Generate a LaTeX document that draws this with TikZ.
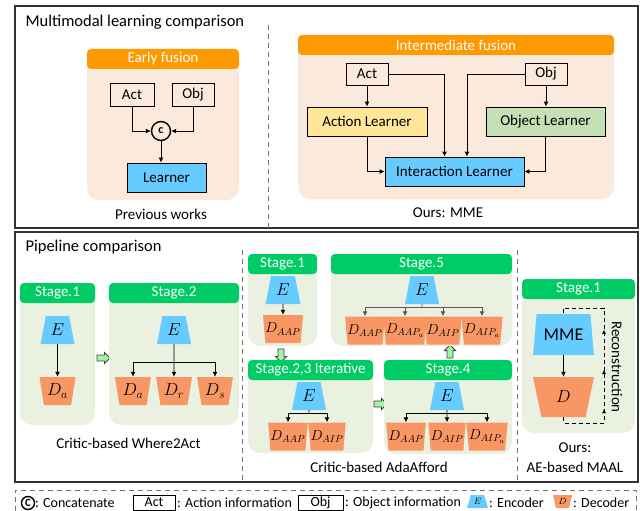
\documentclass[tikz,border=0pt]{standalone}
\usepackage{fontspec}
\setmainfont{Carlito}
\usepackage{tikz}
\usetikzlibrary{shapes,shapes.geometric,shapes.arrows}
\usetikzlibrary{arrows.meta}
\usetikzlibrary{decorations.markings}
\definecolor{fusionhead}{RGB}{255,153,0}
\definecolor{fusionbody}{RGB}{251,233,220}
\definecolor{stagehead}{RGB}{0,204,102}
\definecolor{stagebody}{RGB}{235,241,225}
\definecolor{encblue}{RGB}{102,204,255}
\definecolor{decorange}{RGB}{248,150,100}
\definecolor{actyellow}{RGB}{255,230,153}
\definecolor{objgreen}{RGB}{197,224,180}
\definecolor{stepgreen}{RGB}{160,245,160}

\begin{document}
\begin{tikzpicture}[x=1pt,y=-1pt,font=\fontsize{15}{18}\selectfont,
	arr/.style={-{Latex[length=5pt,width=5pt]},line width=0.9pt},
	box/.style={draw,line width=0.9pt,inner sep=0,minimum height=23},
	enc/.style={trapezium,trapezium stretches=true,fill=encblue,inner sep=0,minimum width=34,minimum height=28,trapezium angle=75,font=\fontsize{17}{18}\selectfont},
	dec/.style={trapezium,trapezium stretches=true,shape border rotate=180,fill=decorange,inner sep=0,minimum width=36,minimum height=28,trapezium angle=77,font=\fontsize{17}{18}\selectfont},
	fhead/.style={fill=fusionhead,text=white,rounded corners=4,inner sep=0,minimum height=20},
	shead/.style={fill=stagehead,text=white,rounded corners=4,inner sep=0,minimum height=20},
	stepnext/.style={single arrow,draw=black!75,fill=stepgreen,line width=0.8pt,minimum height=13,inner sep=2.6pt,single arrow head extend=2.6pt,single arrow head indent=0pt},
	divider/.style={draw=black!55,line width=0.9pt,dash pattern=on 5pt off 4pt},
	frame/.style={draw=black!80,line width=1.3pt},
	legtext/.style={anchor=west,inner sep=0,font=\fontsize{14}{16}\selectfont}]
	\useasboundingbox (0,0) rectangle (640,511);
	\draw [frame] (15,6) rectangle (638,228);
	\draw [frame] (15,232) rectangle (638,482);
	\draw [divider] (268,25) -- (268,228);
	\draw [divider] (242,250) -- (242,482);
	\draw [divider] (517,250) -- (517,482);
	\node [anchor=west,font=\fontsize{16.5}{20}\selectfont] (ttop) at (22,22) {Multimodal learning comparison};
	\node [anchor=west,font=\fontsize{16.5}{20}\selectfont] (tbot) at (22,247) {Pipeline comparison};

	\fill [fusionbody,rounded corners=12] (87,55) rectangle (239,200);
	\node [fhead,minimum width=152] (efh) at (163,59) {Early fusion};
	\node [box,minimum width=44] (act1) at (132,94.5) {Act};
	\node [box,minimum width=42] (obj1) at (193,94.5) {Obj};
	\node [circle,draw,line width=1.4pt,minimum size=19,inner sep=0,font=\bfseries\fontsize{12}{12}\selectfont] (cat) at (161,131) {c};
	\node [box,fill=encblue,minimum width=79,minimum height=29] (lrn) at (166.5,177.5) {Learner};
	\draw [arr] (act1.south) |- (cat.west);
	\draw [arr] (obj1.south) |- (cat.east);
	\draw [arr] (cat.south) -- (cat.south |- lrn.north);
	\node (cap1) at (161,214) {Previous works};

	\fill [fusionbody,rounded corners=12] (298,41) rectangle (614,199);
	\node [fhead,minimum width=316] (ifh) at (456,45) {Intermediate fusion};
	\node [box,minimum width=42,minimum height=22] (act2) at (367,74) {Act};
	\node [box,minimum width=42,minimum height=22] (obj2) at (546,74) {Obj};
	\node [box,fill=actyellow,minimum width=120,minimum height=29] (al) at (367,121.5) {Action Learner};
	\node [box,fill=objgreen,minimum width=119,minimum height=29] (ol) at (545.5,121.5) {Object Learner};
	\node [box,fill=encblue,minimum width=139,minimum height=29] (il) at (454.5,171.5) {Interaction Learner};
	\draw [arr] (act2.south) -- (al.north);
	\draw [arr] (act2.east) -| ([xshift=-10]il.north);
	\draw [arr] (obj2.west) -| ([xshift=12.5]il.north);
	\draw [arr] (obj2.south) -- (obj2.south |- ol.north);
	\draw [arr] (al.south) |- (il.west);
	\draw [arr] (ol.south) |- (il.east);
	\node (cap2) at (448,213) {Ours: MME};

	\fill [stagebody,rounded corners=12] (20,289) rectangle (95,425);
	\node [shead,minimum width=75] (w1h) at (57.5,293) {Stage.1};
	\node [enc] (w1e) at (57.5,330) {$E$};
	\node [dec] (w1d) at (57.5,391) {$D_a$};
	\draw [arr] (w1e.south) -- (w1d.north);
	\node [stepnext] (w12) at (102,358) {};
	\fill [stagebody,rounded corners=12] (109,289) rectangle (239,425);
	\node [shead,minimum width=130] (w2h) at (174,293) {Stage.2};
	\node [enc] (w2e) at (174,330) {$E$};
	\node [dec] (w2da) at (133,391) {$D_a$};
	\node [dec] (w2dr) at (174,391) {$D_r$};
	\node [dec] (w2ds) at (215,391) {$D_s$};
	\coordinate (w2b) at (174,362);
	\draw [line width=0.9pt] (w2e.south) -- (w2b);
	\draw [arr] (w2b) -- (w2dr.north);
	\draw [arr] (w2b) -| (w2da.north);
	\draw [arr] (w2b) -| (w2ds.north);
	\node (cap3) at (128.5,443) {Critic-based Where2Act};

	\begin{scope}[dec/.append style={font=\fontsize{14.5}{16}\selectfont,trapezium angle=79,minimum width=39}]
	\fill [stagebody,rounded corners=12] (248,260) rectangle (317,346);
	\node [shead,minimum width=69] (a1h) at (282.5,264) {Stage.1};
	\node [enc,minimum width=35] (a1e) at (283,290) {$E$};
	\node [dec,minimum width=40] (a1d) at (283,329) {$D_{AAP}$};
	\draw [arr] (a1e.south) -- (a1d.north);
	\node [stepnext,shape border rotate=270] (a12) at (281,354) {};

	\fill [stagebody,rounded corners=12] (248,366) rectangle (373,453);
	\node [shead,minimum width=125] (a2h) at (310.5,370) {Stage.2,3 Iterative};
	\node [enc] (a2e) at (309,396) {$E$};
	\node [dec,minimum width=37] (a2da) at (288,436.5) {$D_{AAP}$};
	\node [dec,minimum width=34] (a2db) at (327,436.5) {$D_{AIP}$};
	\coordinate (a2b) at (309,413);
	\draw [line width=0.9pt] (a2e.south) -- (a2b);
	\draw [arr] (a2b) -| (a2da.north);
	\draw [arr] (a2b) -| (a2db.north);
	\node [stepnext] (a24) at (379,404) {};

	\fill [stagebody,rounded corners=12] (384,365) rectangle (512,454);
	\node [shead,minimum width=128] (a4h) at (448,370) {Stage.4};
	\node [enc] (a4e) at (447,396) {$E$};
	\node [dec] (a4da) at (406,436.5) {$D_{AAP}$};
	\node [dec,minimum width=34] (a4db) at (447,436.5) {$D_{AIP}$};
	\node [dec,minimum width=40] (a4dc) at (487,436.5) {$D_{AIP_a}$};
	\coordinate (a4b) at (447,413);
	\draw [line width=0.9pt] (a4e.south) -- (a4b);
	\draw [arr] (a4b) -- (a4db.north);
	\draw [arr] (a4b) -| (a4da.north);
	\draw [arr] (a4b) -| (a4dc.north);
	\node [stepnext,shape border rotate=90] (a45) at (450,353) {};

	\fill [stagebody,rounded corners=12] (331,259) rectangle (512,346);
	\node [shead,minimum width=181] (a5h) at (421.5,264) {Stage.5};
	\node [enc] (a5e) at (422,290) {$E$};
	\node [dec,minimum width=35] (a5da) at (365,330.5) {$D_{AAP}$};
	\node [dec,minimum width=40] (a5db) at (405,330.5) {$D_{AAP_a}$};
	\node [dec,minimum width=33] (a5dc) at (443,330.5) {$D_{AIP}$};
	\node [dec] (a5dd) at (482,330.5) {$D_{AIP_a}$};
	\coordinate (a5b) at (422,307);
	\draw [line width=0.9pt,black!65] (a5e.south) -- (a5b);
	\draw [arr,black!65] (a5b) -| (a5da.north);
	\draw [arr,black!65] (a5b) -| (a5db.north);
	\draw [arr,black!65] (a5b) -| (a5dc.north);
	\draw [arr,black!65] (a5b) -| (a5dd.north);
	\end{scope}
	\node (cap4) at (379,467) {Critic-based AdaAfford};

	\fill [stagebody,rounded corners=12] (522,285) rectangle (635,433);
	\node [shead,minimum width=113] (m1h) at (578.5,289) {Stage.1};
	\node [enc,minimum width=61,minimum height=41,trapezium angle=77.6,font=\fontsize{18}{18}\selectfont] (mme) at (563.5,334.5) {MME};
	\node [dec,minimum width=61,minimum height=40,font=\fontsize{19}{19}\selectfont] (dd) at (563.5,397) {$D$};
	\draw [arr] (mme.south) -- (dd.north);
	\coordinate (rb) at (604,423);
	\coordinate (rt) at (604,308);
	\draw [line width=0.9pt,dash pattern=on 4pt off 3pt] (dd.south) |- (rb) -- (rt) -| (mme.north);
	\path [postaction={decorate},decoration={markings,
		mark=at position 0.12 with {\arrow{Latex[length=4pt,width=4pt]}},
		mark=at position 0.46 with {\arrow{Latex[length=4pt,width=4pt]}},
		mark=at position 0.81 with {\arrow{Latex[length=4pt,width=4pt]}}}] (rb) -- (rt);
	\node [rotate=-90] (rec) at (617,367) {Reconstruction};
	\node (cap5) at (575,448) {Ours:};
	\node (cap6) at (575,467) {AE-based MAAL};

	\draw [divider] (15,511) -- (15,490) -- (636,490) -- (636,511);
	\node [circle,draw,line width=1.4pt,minimum size=13,inner sep=0,font=\bfseries\fontsize{11}{11}\selectfont] (lc) at (28,503) {C};
	\node [legtext] (lct) at (35,503) {: Concatenate};
	\node [box,minimum width=42,minimum height=15,font=\fontsize{14}{16}\selectfont] (la) at (154,502.5) {Act};
	\node [legtext] (lat) at (177,503) {: Action information};
	\node [box,minimum width=45,minimum height=15,font=\fontsize{14}{16}\selectfont] (lo) at (320.5,502.5) {Obj};
	\node [legtext] (lot) at (345,503) {: Object information};
	\node [enc,minimum width=21,minimum height=13,trapezium angle=71,font=\fontsize{9}{9}\selectfont] (le) at (477.5,501.5) {$E$};
	\node [legtext] (let) at (489,503) {: Encoder};
	\node [dec,minimum width=19,minimum height=13,trapezium angle=73,font=\fontsize{9}{9}\selectfont] (ld) at (562.5,501.5) {$D$};
	\node [legtext] (ldt) at (573,503) {: Decoder};
\end{tikzpicture}
\end{document}
